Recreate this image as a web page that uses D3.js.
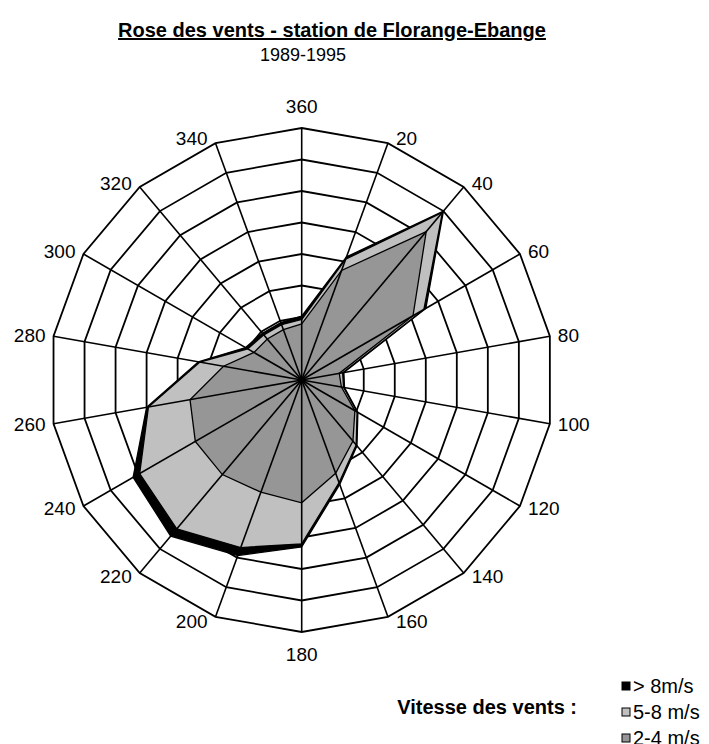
<!DOCTYPE html>
<html>
<head>
<meta charset="utf-8">
<script src="https://cdn.jsdelivr.net/npm/d3@7"></script>
<style>
  body { margin: 0; background: #fff; }
  svg text { font-family: 'Liberation Sans', Arial, sans-serif; fill: #000; }
</style>
</head>
<body>
<div id="chart"></div>
<script>
// Directions (degrees), clockwise from the top
const directions = ['360', '20', '40', '60', '80', '100', '120', '140', '160',
  '180', '200', '220', '240', '260', '280', '300', '320', '340'];

// Cumulative values read from the rings (0 - 8)
const over8 = [2.03, 4.16, 7.0, 4.55, 1.36, 1.38, 2.06, 2.73, 3.53,
  5.3, 5.93, 6.47, 6.18, 5.0, 3.33, 2.06, 1.94, 1.94];
const from5to8 = [1.92, 4.08, 6.95, 4.48, 1.32, 1.35, 2.03, 2.69, 3.47,
  5.2, 5.66, 6.17, 5.94, 4.94, 3.28, 1.98, 1.87, 1.87];
const from2to4 = [1.78, 3.7, 6.15, 4.08, 1.21, 1.28, 1.95, 2.53, 3.15,
  3.9, 3.79, 3.92, 3.9, 3.6, 2.52, 1.75, 1.7, 1.7];

const ringTicks = [1, 2, 3, 4, 5, 6, 7, 8];
const seriesNames = ['> 8m/s', '5-8 m/s', '2-4 m/s'];
const seriesColors = ['#000000', '#c0c0c0', '#969696'];

const width = 709, height = 744;
const cx = 301.7, cy = 380, radius = 252;

const svg = d3.select('#chart').append('svg')
  .attr('width', width)
  .attr('height', height);

const angle = d3.scalePoint()
  .domain(directions)
  .range([0, 2 * Math.PI * (directions.length - 1) / directions.length]);
const r = d3.scaleLinear().domain([0, 8]).range([0, radius]);

const g = svg.append('g')
  .attr('transform', 'translate(' + cx + ',' + cy + ')');

const radial = d3.lineRadial()
  .angle((d, i) => angle(directions[i]))
  .radius(d => r(d))
  .curve(d3.curveLinearClosed);

//Rings
g.append('g').attr('class', 'rings')
  .selectAll('path')
  .data(ringTicks)
  .enter()
  .append('path')
  .attr('d', t => radial(directions.map(() => t)))
  .attr('fill', 'none')
  .attr('stroke', '#000')
  .attr('stroke-width', 1.8);

//Series, drawn from the largest to the smallest
const series = [over8, from5to8, from2to4];
g.append('g').attr('class', 'series')
  .selectAll('path')
  .data(series)
  .enter()
  .append('path')
  .attr('d', d => radial(d))
  .attr('fill', (d, i) => seriesColors[i])
  .attr('stroke', '#000')
  .attr('stroke-width', 1.3)
  .attr('stroke-linejoin', 'miter');

//Spokes on top
g.append('g').attr('class', 'spokes')
  .selectAll('line')
  .data(directions)
  .enter()
  .append('line')
  .attr('x1', 0).attr('y1', 0)
  .attr('x2', d => r(8) * Math.sin(angle(d)))
  .attr('y2', d => -r(8) * Math.cos(angle(d)))
  .attr('stroke', '#000')
  .attr('stroke-width', 1.6);

//Direction labels: beside the spoke end, above/below at the poles
g.append('g').attr('class', 'labels')
  .selectAll('text')
  .data(directions)
  .enter()
  .append('text')
  .style('font-size', '19px')
  .attr('dominant-baseline', 'central')
  .attr('text-anchor', d => {
    const s = Math.sin(angle(d));
    return s > 0.05 ? 'start' : (s < -0.05 ? 'end' : 'middle');
  })
  .attr('x', d => {
    const s = Math.sin(angle(d));
    return r(8) * s + (s > 0.05 ? 8 : (s < -0.05 ? -8 : 0));
  })
  .attr('y', d => {
    const s = Math.sin(angle(d)), c = Math.cos(angle(d));
    if (Math.abs(s) < 0.05) return -r(8) * c - c * 22;
    return -r(8) * c - c * 5;
  })
  .text(d => d);

//Title
svg.append('text')
  .attr('x', 332)
  .attr('y', 37)
  .attr('text-anchor', 'middle')
  .style('font-size', '20px')
  .style('font-weight', 'bold')
  .style('text-decoration', 'underline')
  .text('Rose des vents - station de Florange-Ebange');

svg.append('text')
  .attr('x', 303)
  .attr('y', 61)
  .attr('text-anchor', 'middle')
  .style('font-size', '18px')
  .text('1989-1995');

//Legend
svg.append('text')
  .attr('x', 577)
  .attr('y', 714)
  .attr('text-anchor', 'end')
  .style('font-size', '20px')
  .style('font-weight', 'bold')
  .text('Vitesse des vents :');

const legend = svg.append('g').attr('class', 'legend')
  .selectAll('g')
  .data(seriesNames)
  .enter()
  .append('g')
  .attr('transform', (d, i) => 'translate(622,' + (686 + i * 26) + ')');

legend.append('rect')
  .attr('x', 0).attr('y', -4)
  .attr('width', 8).attr('height', 8)
  .attr('fill', (d, i) => seriesColors[i])
  .attr('stroke', '#000')
  .attr('stroke-width', 1);

legend.append('text')
  .attr('x', 11)
  .attr('y', 0)
  .attr('dominant-baseline', 'central')
  .style('font-size', '20px')
  .text(d => d);
</script>
</body>
</html>
